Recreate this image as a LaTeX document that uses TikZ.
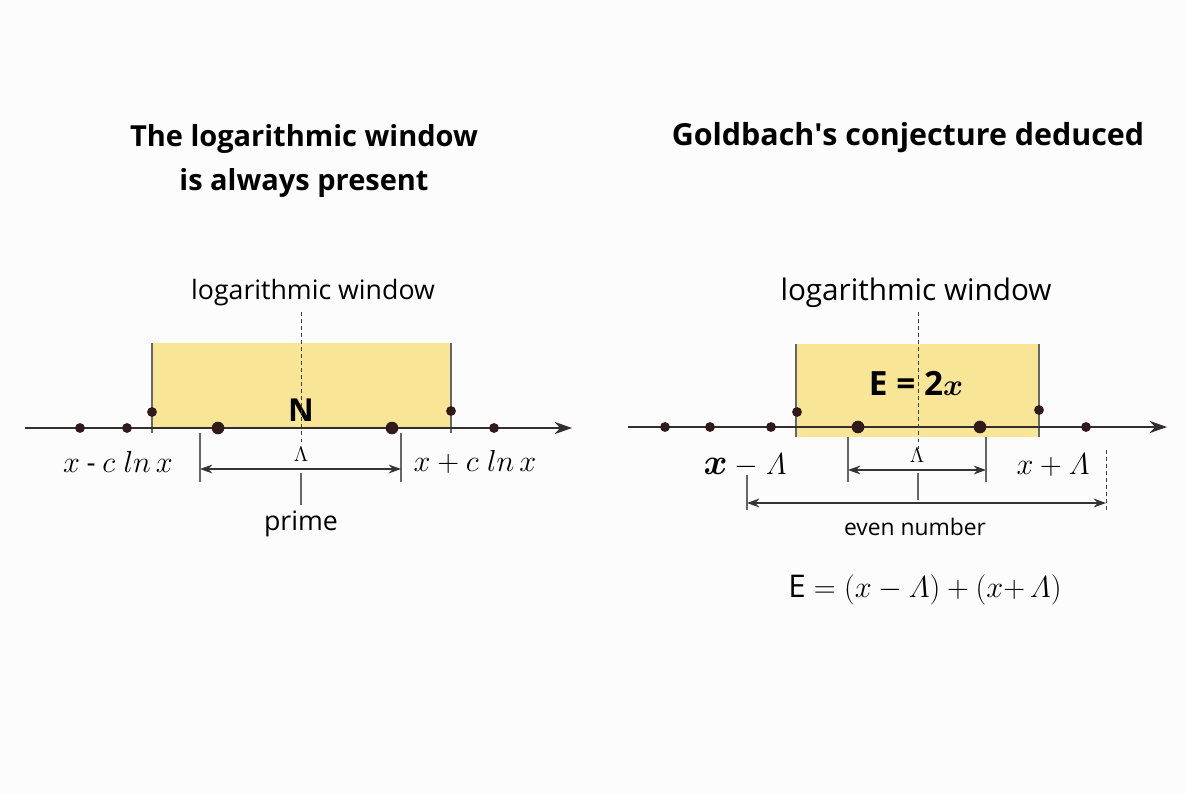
\documentclass[tikz,border=0pt]{standalone}
\usepackage{bm}
\usepackage{fontspec}
\setmainfont{Open Sans}
\usetikzlibrary{arrows.meta}
\definecolor{winyellow}{RGB}{249,229,150}
\definecolor{dotbrown}{RGB}{48,26,26}
\definecolor{axisgray}{RGB}{52,46,46}
\definecolor{paper}{RGB}{252,252,252}
\newcommand{\Lam}{\mathnormal{\Lambda}}
\tikzset{
  dot/.style={circle,fill=dotbrown,inner sep=0pt,minimum size=5.6pt},
  bigdot/.style={dot,minimum size=7.2pt},
  axis/.style={draw=axisgray,line width=1pt,-{Stealth[length=10pt,width=7pt]}},
  edge/.style={draw=black!60,line width=0.6pt},
  dimline/.style={draw=black!80,line width=0.6pt,{Stealth[length=7pt,width=5pt]}-{Stealth[length=7pt,width=5pt]}},
  midline/.style={draw=black!75,line width=0.5pt,dash pattern=on 2pt off 2pt},
  title/.style={font=\bfseries\fontsize{16.5}{25.5}\selectfont,align=center},
  label/.style={font=\fontsize{15.2}{18}\selectfont},
}
\begin{document}
\begin{tikzpicture}[x=0.02cm,y=-0.02cm]
\fill[paper] (0,0) rectangle (1186,794);
\useasboundingbox (0,0) rectangle (1186,794);

% left: the logarithmic window
\node[title] (titleL) at (304,161) {The logarithmic window\\is always present};
\node[label] (winL) at (313,293) {logarithmic window};
\fill[winyellow] (152,343) rectangle (451,428);
\draw[edge] (152,343) -- (152,433);
\draw[edge] (451,343) -- (451,433);
\coordinate (axL0) at (25,428);
\coordinate (axL1) at (572,428);
\draw[axis] (axL0) -- (axL1);
\foreach \x in {80,127,494}
  \node[dot] (pL\x) at (\x,428) {};
\node[bigdot] (pL218) at (218,428) {};
\node[bigdot] (pL392) at (392,428) {};
\node[dot] (eL1) at (152,412) {};
\node[dot] (eL2) at (451,411) {};
\node[font=\bfseries\fontsize{18}{18}\selectfont] (N) at (301,410) {N};
\coordinate (cL0) at (301,312);
\coordinate (cL1) at (301,445);
\draw[midline] (cL0) -- (cL1);
\node[font=\fontsize{16}{16}\selectfont] (xmL) at (118,462) {$x\mathbin{\mbox{-}}c\;ln\,x$};
\node[font=\fontsize{16}{16}\selectfont] (xpL) at (475,462) {$x + c\;ln\,x$};
\coordinate (tL0) at (200,433);
\coordinate (tL1) at (401,433);
\draw[edge] (tL0) -- ++(0,49);
\draw[edge] (tL1) -- ++(0,49);
\draw[dimline] ([yshift=-0.72cm]tL0) -- ([yshift=-0.72cm]tL1);
\node[font=\fontsize{13}{13}\selectfont] (lamL) at (301,454) {$\Lambda$};
\node[label] (prime) at (301,524) {prime};
\draw[edge] (301,473) -- (prime.north);

% right: Goldbach
\node[title,font=\bfseries\fontsize{17.3}{25.5}\selectfont] (titleR) at (908,138) {Goldbach\textquotesingle s conjecture deduced};
\node[label,font=\fontsize{16.9}{19}\selectfont] (winR) at (916,293) {logarithmic window};
\fill[winyellow] (796,344) rectangle (1039,437);
\draw[edge] (796,344) -- (796,437);
\draw[edge] (1039,344) -- (1039,437);
\coordinate (axR0) at (628,427);
\coordinate (axR1) at (1167,427);
\draw[axis] (axR0) -- (axR1);
\foreach \x in {665,710,771,1086}
  \node[dot] (pR\x) at (\x,427) {};
\node[bigdot] (pR858) at (858,427) {};
\node[bigdot] (pR980) at (980,427) {};
\node[dot] (eR1) at (797,412) {};
\node[dot] (eR2) at (1039,410) {};
\node[font=\bfseries\fontsize{19}{19}\selectfont] (E2x) at (916,383) {E = 2$\bm{x}$};
\coordinate (cR0) at (918,312);
\coordinate (cR1) at (918,450);
\draw[midline] (cR0) -- (cR1);
\coordinate (tR0) at (848,437);
\coordinate (tR1) at (986,437);
\draw[edge] (tR0) -- ++(0,45);
\draw[edge] (tR1) -- ++(0,45);
\draw[dimline] ([yshift=-0.66cm]tR0) -- ([yshift=-0.66cm]tR1);
\node[font=\fontsize{13}{13}\selectfont] (lamR) at (917,455) {$\Lambda$};
\draw[edge] (918,473) -- (918,500);
\node[font=\fontsize{16}{16}\selectfont] (xmR) at (745,465) {{\fontsize{21}{21}\selectfont$\bm{x}$} $-$ {\fontsize{19}{19}\selectfont$\Lam$}};
\node[font=\fontsize{16}{16}\selectfont] (xpR) at (1053,465) {$x + \Lam$};
\coordinate (oR0) at (747,475);
\coordinate (oR1) at (1106,450);
\draw[edge] (oR0) -- ++(0,35);
\draw[midline] (oR1) -- ++(0,62);
\draw[dimline] ([yshift=-0.56cm]oR0) -- ([yshift=-0.56cm]oR0 -| oR1);
\node[font=\fontsize{13}{15}\selectfont] (even) at (915,527) {even number};
\node[font=\fontsize{17.8}{20}\selectfont] (sumE) at (925,590) {E $= (x - \Lam) + (x{+}\,\Lam)$};
\end{tikzpicture}
\end{document}
